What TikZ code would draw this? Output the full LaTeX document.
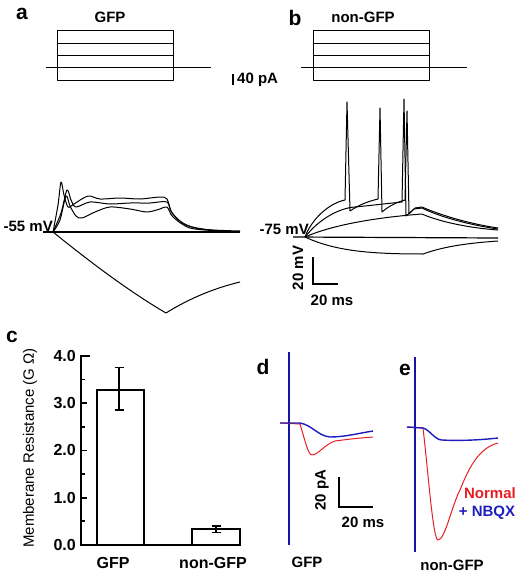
\documentclass[tikz,border=0pt]{standalone}
\usepackage{fontspec}
\setmainfont{Liberation Sans}
\usepackage{tikz}
\usetikzlibrary{calc}
\definecolor{normred}{RGB}{228,32,36}
\definecolor{nbqxblue}{RGB}{30,30,190}
\definecolor{stimblue}{RGB}{20,20,165}
\tikzset{
  trace/.style={line width=1pt,line join=round},
  bar/.style={line width=1.8pt},
  panel/.style={font=\fontsize{21}{24}\selectfont\bfseries,inner sep=0pt},
  lbl/.style={font=\fontsize{15}{17}\selectfont\bfseries,inner sep=0pt},
}
\newcommand\stimbox[3]{
  \draw[trace] (#1,31) rectangle ++(116,50);
  \draw[trace] (#1,44) -- ++(116,0);
  \draw[trace] (#1,56) -- ++(116,0);
  \draw[trace] (#2,68) -- (#3,68); % holding level
}
\newcommand\errbar[3]{
  \draw[line width=1.5pt] (#1,#2) -- (#1,#3);
  \draw[line width=1.5pt] (#1-4.5,#2) -- (#1+4.5,#2);
  \draw[line width=1.5pt] (#1-4.5,#3) -- (#1+4.5,#3);
}
\begin{document}
\begin{tikzpicture}[x=1pt,y=-1pt]
  \useasboundingbox (0,0) rectangle (524,575);

  % a: GFP cell
  \node[panel] (lbla) at (22,14) {a};
  \node[lbl] (gfpa) at (110,17) {GFP};
  \stimbox{57}{46}{211}
  \draw[line width=1.2pt] (233,74) -- (233,85);
  \node[lbl,anchor=west] (pa) at (237,80) {40 pA};
  \node[lbl,anchor=east] (mva) at (53,226) {-55 mV};
  \draw[line width=1.2pt] (43,232) -- (240,232);
  \draw[trace] (53,232) .. controls (90,262) and (130,292) .. (166,313)
    .. controls (190,298) and (215,288) .. (240,282);
  \draw[trace] plot[smooth,tension=0.5] coordinates {(53,232) (58,205) (61,182)
    (64,195) (68,207) (74,204) (88,196) (100,199) (120,198) (140,199) (160,197)
    (167,199) (171,211) (181,222) (200,229) (240,231)};
  \draw[trace] plot[smooth,tension=0.5] coordinates {(53,232) (61,213) (67,190)
    (71,200) (76,207) (90,202) (110,204) (130,203) (150,203) (167,202) (172,213)
    (186,225) (210,230) (240,232)};
  \draw[trace] plot[smooth,tension=0.5] coordinates {(53,232) (60,220) (66,196)
    (70,206) (76,216) (82,218) (95,212) (110,207) (130,209) (147,212) (160,209)
    (167,207) (173,217) (190,228) (220,231) (240,232)};

  % b: non-GFP cell
  \node[panel] (lblb) at (295,18) {b};
  \node[lbl] (nongfpb) at (363,17) {non-GFP};
  \stimbox{313}{301}{467}
  \node[lbl,anchor=east] (mvb) at (309,229) {-75 mV};
  \draw[line width=1.2pt] (293,237) -- (498,238);
  \draw[trace] (305,237) .. controls (335,251) and (370,254) .. (423,254)
    .. controls (445,246) and (470,243) .. (498,241);
  \draw[trace] (305,237) .. controls (312,218) and (330,203) .. (345,200)
    -- (347,102) -- (350,211) .. controls (360,204) and (370,201) .. (378,199)
    -- (380,108) -- (382,212) .. controls (390,205) and (398,202) .. (405,200)
    -- (407,111) -- (409,214) -- (415,208) -- (422,207)
    .. controls (440,215) and (470,224) .. (498,228);
  \draw[trace] (305,237) .. controls (320,218) and (340,208) .. (355,207)
    .. controls (375,205) and (392,203) .. (402,202) -- (404,99) -- (406,216)
    -- (414,209) -- (422,208) .. controls (440,217) and (470,225) .. (498,229);
  \draw[trace] (305,237) .. controls (330,226) and (370,218) .. (422,214)
    .. controls (440,222) and (470,228) .. (498,230);
  \draw[line width=1.2pt] (313,257) -- (313,284) -- (338,284);
  \node[lbl,rotate=90] (mvscale) at (298,268) {20 mV};
  \node[lbl] (msb) at (332,300) {20 ms};

  % c: membrane resistance
  \node[panel] (lblc) at (12,337) {c};
  \node[font=\fontsize{15}{17}\selectfont,rotate=90,inner sep=0pt] (ylab) at (30,448)
    {Memberane Resistance (G Ω)};
  \begin{scope}[shift={(81,545)},y=47.3pt]
    \draw[bar] (9,4) -- (0,4) -- (0,0) -- (159,0);
    \foreach \v in {0,1,2,3} \draw[bar] (0,\v) -- (6,\v);
    \foreach \v in {0.5,1.5,2.5,3.5} \draw[bar] (0,\v) -- (4,\v);
    \foreach \v in {0,1,2,3,4}
      \node[lbl,font=\fontsize{16}{18}\selectfont\bfseries,anchor=east] (tick\v) at (-5,\v) {\v.0};
    \draw[bar] (16,0) rectangle (63,3.27);
    \draw[bar] (111,0) rectangle (159,0.33);
    \errbar{38}{2.85}{3.75}
    \errbar{135}{0.26}{0.40}
  \end{scope}
  \node[lbl,font=\fontsize{16}{18}\selectfont\bfseries] (gfpc) at (113,563) {GFP};
  \node[lbl,font=\fontsize{16}{18}\selectfont\bfseries] (nongfpc) at (213,563) {non-GFP};

  % d, e: evoked currents
  \node[panel] (lbld) at (263,367) {d};
  \node[panel] (lble) at (405,370) {e};
  \draw[stimblue,line width=1.3pt] (289,352) -- (289,545);
  \draw[stimblue,line width=1.3pt] (415,357) -- (415,552);
  \draw[normred,trace] (280,423) -- (300,424) .. controls (305,440) and (308,455) .. (312,455)
    .. controls (318,455) and (325,444) .. (335,441) .. controls (350,439) and (360,438) .. (373,437);
  \draw[nbqxblue,line width=1.4pt] (280,423) -- (300,423) .. controls (312,425) and (318,436) .. (330,437)
    .. controls (345,437) and (360,433) .. (373,431);
  \draw[normred,trace] (407,427) -- (423,428) .. controls (428,470) and (433,540) .. (438,540)
    .. controls (445,540) and (452,505) .. (460,490) .. controls (468,470) and (478,448) .. (498,443);
  \draw[nbqxblue,line width=1.4pt] (407,427) -- (423,428) .. controls (430,430) and (435,440) .. (442,440)
    .. controls (460,441) and (480,440) .. (498,438);
  \draw[line width=1.2pt] (339,477) -- (339,507) -- (373,507);
  \node[lbl,rotate=90] (pad) at (322,490) {20 pA};
  \node[lbl] (msd) at (363,522) {20 ms};
  \node[lbl,normred] (normal) at (490,493) {Normal};
  \node[lbl,nbqxblue] (nbqx) at (487,513) {+ NBQX};
  \node[lbl] (gfpd) at (307,562) {GFP};
  \node[lbl] (nongfpe) at (452,565) {non-GFP};
\end{tikzpicture}
\end{document}
